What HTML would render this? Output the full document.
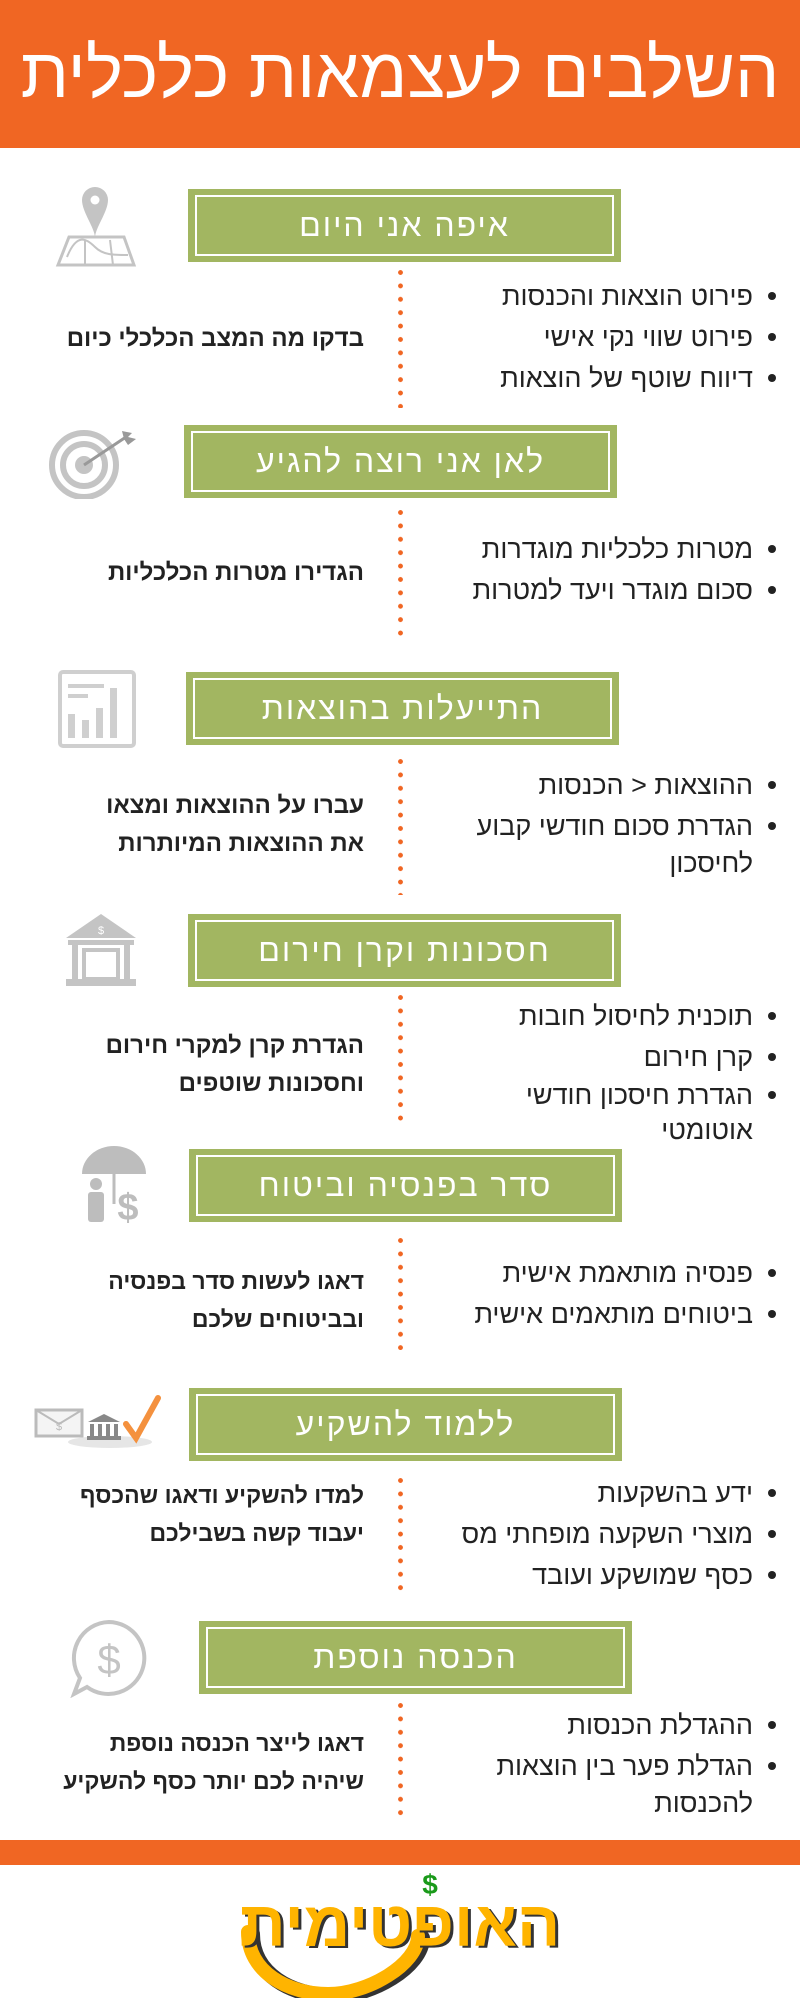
<!DOCTYPE html>
<html><head><meta charset="utf-8"><style>
*{margin:0;padding:0;box-sizing:border-box}
body{width:800px;height:2000px;background:#fff;position:relative;overflow:hidden;font-family:"Liberation Sans","Noto Sans CJK SC",sans-serif;color:#222}
.hdr{position:absolute;left:0;top:0;width:800px;height:148px;background:#F06623}
.hdr div{position:absolute;left:0;right:0;top:28px;text-align:center;color:#fff;font-size:70px;line-height:90px;direction:rtl}
.box{position:absolute;width:433px;height:73px;background:#A2B661}
.box div{position:absolute;left:7px;right:7px;top:6px;bottom:6px;border:2px solid #fff;color:#fff;font-size:32px;text-align:center;line-height:56px;direction:rtl;letter-spacing:2px}
.dots{position:absolute;left:398px;width:5px;background:radial-gradient(circle at 2.5px 2.5px,#F06623 2.2px,transparent 2.6px) 0 0/5px 13.4px repeat-y}
.b{position:absolute;right:47px;width:380px;text-align:right;direction:rtl;font-size:27px;line-height:30px;color:#222}
.bul{position:absolute;left:768px;width:8px;height:8px;border-radius:50%;background:#222}
.l{position:absolute;right:436px;width:360px;text-align:right;direction:rtl;font-size:24px;line-height:38px;font-weight:bold;color:#222}
.bar{position:absolute;left:0;top:1840px;width:800px;height:25px;background:#F06623}
svg{position:absolute}
</style></head><body>
<div class="hdr"><div>השלבים לעצמאות כלכלית</div></div>

<!-- 1 -->
<svg style="left:55px;top:185px" width="84" height="82" viewBox="0 0 84 82"><path d="M40 2a13 13 0 0 1 13 13c0 12-13 28-13 38C40 43 27 27 27 15A13 13 0 0 1 40 2z" fill="#c4c4c4"/><circle cx="40" cy="15" r="4.5" fill="#fff"/><path d="M14 52h55l10 28H3z" fill="none" stroke="#c4c4c4" stroke-width="3"/><path d="M12 72c10-25 20-18 28-10s18 8 33 8" fill="none" stroke="#c4c4c4" stroke-width="2"/><path d="M30 55v25M55 55l3 25" stroke="#c4c4c4" stroke-width="2"/></svg>
<div class="box" style="left:188px;top:189px"><div>איפה אני היום</div></div>
<div class="dots" style="top:270px;height:138px"></div>
<div class="bul" style="top:292px"></div><div class="b" style="top:281px">פירוט הוצאות והכנסות</div>
<div class="bul" style="top:333px"></div><div class="b" style="top:322px">פירוט שווי נקי אישי</div>
<div class="bul" style="top:374px"></div><div class="b" style="top:363px">דיווח שוטף של הוצאות</div>
<div class="l" style="top:320px">בדקו מה המצב הכלכלי כיום</div>

<!-- 2 -->
<svg style="left:46px;top:427px" width="92" height="72" viewBox="0 0 92 72"><circle cx="38" cy="38" r="32" fill="none" stroke="#c4c4c4" stroke-width="6"/><circle cx="38" cy="38" r="21" fill="none" stroke="#c4c4c4" stroke-width="6"/><circle cx="38" cy="38" r="9" fill="#c4c4c4"/><path d="M38 38L80 10" stroke="#999" stroke-width="3"/><path d="M76 4l10 2-4 4 8 2-8 6-4-6z" fill="#999"/></svg>
<div class="box" style="left:184px;top:425px"><div>לאן אני רוצה להגיע</div></div>
<div class="dots" style="top:510px;height:128px"></div>
<div class="bul" style="top:545px"></div><div class="b" style="top:534px">מטרות כלכליות מוגדרות</div>
<div class="bul" style="top:586px"></div><div class="b" style="top:575px">סכום מוגדר ויעד למטרות</div>
<div class="l" style="top:554px">הגדירו מטרות הכלכליות</div>

<!-- 3 -->
<svg style="left:58px;top:670px" width="78" height="78" viewBox="0 0 78 78"><rect x="2" y="2" width="74" height="74" rx="3" fill="none" stroke="#cfcfcf" stroke-width="4"/><rect x="10" y="14" width="36" height="4" fill="#cfcfcf"/><rect x="10" y="24" width="20" height="4" fill="#cfcfcf"/><rect x="10" y="44" width="7" height="24" fill="#cfcfcf"/><rect x="24" y="50" width="7" height="18" fill="#cfcfcf"/><rect x="38" y="38" width="7" height="30" fill="#cfcfcf"/><rect x="52" y="18" width="7" height="50" fill="#cfcfcf"/></svg>
<div class="box" style="left:186px;top:672px"><div>התייעלות בהוצאות</div></div>
<div class="dots" style="top:759px;height:136px"></div>
<div class="bul" style="top:781px"></div><div class="b" style="top:770px">ההוצאות &lt; הכנסות</div>
<div class="bul" style="top:822px"></div><div class="b" style="top:811px">הגדרת סכום חודשי קבוע<br><span style="line-height:44px">לחיסכון</span></div>
<div class="l" style="top:787px">עברו על ההוצאות ומצאו<br>את ההוצאות המיותרות</div>

<!-- 4 -->
<svg style="left:62px;top:912px" width="78" height="76" viewBox="0 0 78 76"><path d="M39 2L4 26h70z" fill="#c4c4c4"/><text x="39" y="22" font-size="11" text-anchor="middle" fill="#fff" font-family="Liberation Sans">$</text><rect x="6" y="28" width="66" height="5" fill="#c4c4c4"/><rect x="10" y="33" width="6" height="34" fill="#c4c4c4"/><rect x="62" y="33" width="6" height="34" fill="#c4c4c4"/><rect x="22" y="38" width="34" height="29" fill="none" stroke="#c4c4c4" stroke-width="4"/><rect x="4" y="67" width="70" height="7" fill="#c4c4c4"/></svg>
<div class="box" style="left:188px;top:914px"><div>חסכונות וקרן חירום</div></div>
<div class="dots" style="top:995px;height:130px"></div>
<div class="bul" style="top:1012px"></div><div class="b" style="top:1001px">תוכנית לחיסול חובות</div>
<div class="bul" style="top:1053px"></div><div class="b" style="top:1042px">קרן חירום</div>
<div class="bul" style="top:1091px"></div><div class="b" style="top:1080px">הגדרת חיסכון חודשי<br><span style="line-height:40px">אוטומטי</span></div>
<div class="l" style="top:1027px">הגדרת קרן למקרי חירום<br>וחסכונות שוטפים</div>

<!-- 5 -->
<svg style="left:78px;top:1146px" width="72" height="80" viewBox="0 0 72 80"><path d="M4 28a32 28 0 0 1 64 0z" fill="#bdbdbd"/><path d="M36 28v30" stroke="#bdbdbd" stroke-width="3"/><circle cx="18" cy="38" r="6" fill="#bdbdbd"/><rect x="10" y="46" width="16" height="30" rx="3" fill="#bdbdbd"/><text x="50" y="74" font-size="38" font-weight="bold" text-anchor="middle" fill="#bdbdbd" font-family="Liberation Sans">$</text></svg>
<div class="box" style="left:189px;top:1149px"><div>סדר בפנסיה וביטוח</div></div>
<div class="dots" style="top:1238px;height:112px"></div>
<div class="bul" style="top:1269px"></div><div class="b" style="top:1258px">פנסיה מותאמת אישית</div>
<div class="bul" style="top:1310px"></div><div class="b" style="top:1299px">ביטוחים מותאמים אישית</div>
<div class="l" style="top:1262px;font-size:23px">דאגו לעשות סדר בפנסיה<br>ובביטוחים שלכם</div>

<!-- 6 -->
<svg style="left:34px;top:1394px" width="136" height="56" viewBox="0 0 136 56"><rect x="2" y="16" width="46" height="26" fill="#f4f4f4" stroke="#bbb" stroke-width="3"/><path d="M2 16l23 14 23-14" fill="none" stroke="#bbb" stroke-width="2"/><text x="25" y="36" font-size="11" text-anchor="middle" fill="#bbb" font-family="Liberation Sans">$</text><ellipse cx="76" cy="48" rx="42" ry="6" fill="#e6e6e6"/><path d="M54 28l16-8 16 8z" fill="#888"/><rect x="56" y="30" width="4" height="12" fill="#888"/><rect x="64" y="30" width="4" height="12" fill="#888"/><rect x="72" y="30" width="4" height="12" fill="#888"/><rect x="80" y="30" width="4" height="12" fill="#888"/><rect x="53" y="42" width="34" height="4" fill="#888"/><path d="M92 30l10 14 22-40" fill="none" stroke="#F4913E" stroke-width="6" stroke-linecap="round"/></svg>
<div class="box" style="left:189px;top:1388px"><div>ללמוד להשקיע</div></div>
<div class="dots" style="top:1478px;height:118px"></div>
<div class="bul" style="top:1489px"></div><div class="b" style="top:1478px">ידע בהשקעות</div>
<div class="bul" style="top:1530px"></div><div class="b" style="top:1519px">מוצרי השקעה מופחתי מס</div>
<div class="bul" style="top:1571px"></div><div class="b" style="top:1560px">כסף שמושקע ועובד</div>
<div class="l" style="top:1476px;font-size:23px">למדו להשקיע ודאגו שהכסף<br>יעבוד קשה בשבילכם</div>

<!-- 7 -->
<svg style="left:68px;top:1618px" width="82" height="80" viewBox="0 0 82 80"><path d="M41 4a36 36 0 1 1-22 65L6 76l6-16A36 36 0 0 1 41 4z" fill="none" stroke="#c4c4c4" stroke-width="4"/><text x="41" y="56" font-size="42" text-anchor="middle" fill="#c4c4c4" font-family="Liberation Sans">$</text></svg>
<div class="box" style="left:199px;top:1621px"><div>הכנסה נוספת</div></div>
<div class="dots" style="top:1703px;height:120px"></div>
<div class="bul" style="top:1721px"></div><div class="b" style="top:1710px">ההגדלת הכנסות</div>
<div class="bul" style="top:1762px"></div><div class="b" style="top:1751px">הגדלת פער בין הוצאות<br><span style="line-height:44px">להכנסות</span></div>
<div class="l" style="top:1724px;font-size:23px">דאגו לייצר הכנסה נוספת<br>שיהיה לכם יותר כסף להשקיע</div>

<div class="bar"></div>
<svg style="left:230px;top:1872px" width="340" height="126" viewBox="0 0 340 126"><path d="M18 60c0 40 40 62 80 62s90-30 90-58" fill="none" stroke="#333" stroke-width="16" stroke-linecap="round" transform="translate(4,2)"/><path d="M18 60c0 40 40 62 80 62s90-30 90-58" fill="none" stroke="#FFB400" stroke-width="14" stroke-linecap="round"/><text x="200" y="22" font-size="28" font-weight="bold" fill="#1a9a1a" font-family="Liberation Sans" text-anchor="middle">$</text><text x="170" y="74" font-size="64" font-weight="bold" fill="#333" font-family="Liberation Sans,Noto Sans CJK SC,sans-serif" text-anchor="middle" direction="rtl" transform="translate(3,2)">האופטימית</text><text x="170" y="74" font-size="64" font-weight="bold" fill="#FFB400" font-family="Liberation Sans,Noto Sans CJK SC,sans-serif" text-anchor="middle" direction="rtl">האופטימית</text></svg>
</body></html>
